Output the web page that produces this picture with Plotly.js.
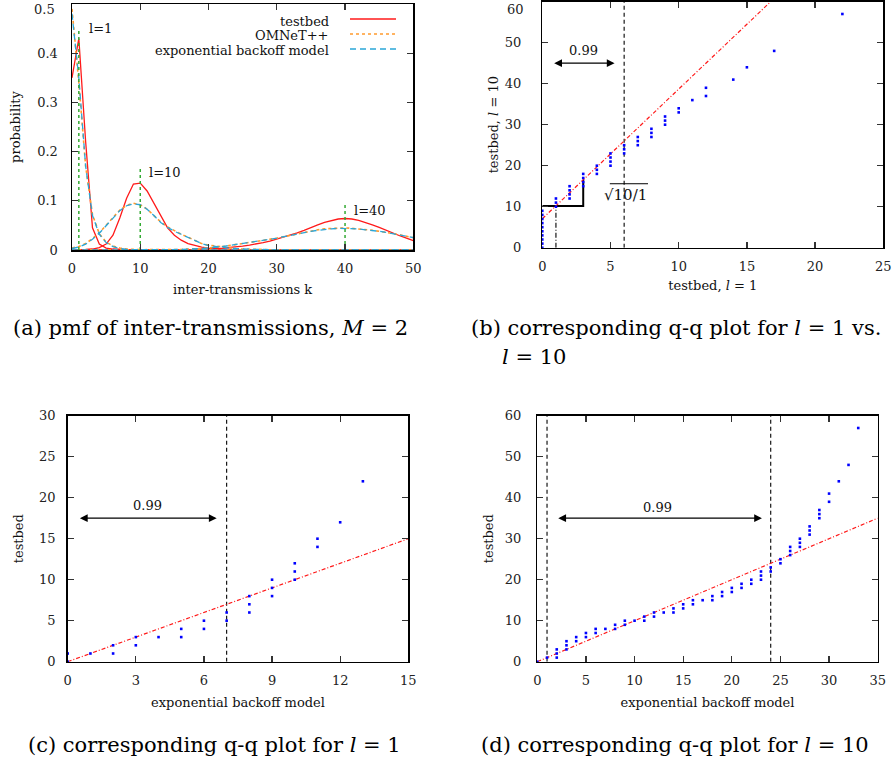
<!DOCTYPE html>
<html><head><meta charset="utf-8">
<script src="https://cdn.plot.ly/plotly-3.0.1.min.js"></script>
<style>html,body{margin:0;padding:0;background:#fff}#chart{width:892px;height:764px}</style>
</head><body><div id="chart"></div>
<script>
// ---------- (a) pmf data ----------
const k = [0,1,2,3,4,5,6,7,8,9,10,11,12,13,14,15,16,17,18,19,20,21,22,23,24,25,26,27,28,29,30,31,32,33,34,35,36,37,38,39,40,41,42,43,44,45,46,47,48,49,50];
const testbedL1  = [0.35,0.43,0.22,0.045,0.012,0.004,0.002,0.001,0,0,0,0,0,0,0,0,0,0,0,0,0,0,0,0,0,0,0,0,0,0,0,0,0,0,0,0,0,0,0,0,0,0,0,0,0,0,0,0,0,0,0];
const testbedL10 = [0,0,0.001,0.002,0.005,0.012,0.03,0.065,0.105,0.134,0.136,0.12,0.095,0.068,0.045,0.03,0.02,0.013,0.009,0.006,0.004,0.003,0.002,0.001,0.001,0,0,0,0,0,0,0,0,0,0,0,0,0,0,0,0,0,0,0,0,0,0,0,0,0,0];
const testbedL40 = [0,0,0,0,0,0,0,0,0,0,0,0,0,0,0,0,0,0,0.001,0.002,0.002,0.003,0.004,0.005,0.006,0.008,0.01,0.012,0.015,0.018,0.022,0.026,0.03,0.035,0.04,0.046,0.051,0.056,0.06,0.063,0.064,0.063,0.06,0.056,0.051,0.046,0.04,0.035,0.029,0.024,0.019];
const omnetL1  = [0.49,0.34,0.17,0.072,0.033,0.016,0.008,0.004,0.002,0.001,0,0,0,0,0,0,0,0,0,0,0,0,0,0,0,0,0,0,0,0,0,0,0,0,0,0,0,0,0,0,0,0,0,0,0,0,0,0,0,0,0];
const omnetL10 = [0.004,0.007,0.013,0.023,0.035,0.051,0.067,0.081,0.091,0.095,0.092,0.083,0.07,0.057,0.047,0.039,0.032,0.026,0.019,0.013,0.01,0.008,0.006,0.004,0.003,0.002,0.002,0.001,0.001,0,0,0,0,0,0,0,0,0,0,0,0,0,0,0,0,0,0,0,0,0,0];
const omnetL40 = [0,0,0,0,0,0,0,0,0,0,0,0,0,0,0,0.001,0.001,0.002,0.002,0.003,0.004,0.005,0.007,0.009,0.011,0.013,0.015,0.018,0.02,0.022,0.024,0.027,0.03,0.033,0.036,0.039,0.041,0.043,0.044,0.045,0.045,0.044,0.043,0.041,0.04,0.038,0.036,0.033,0.031,0.028,0.025];
const modelL1  = [0.48,0.35,0.17,0.07,0.032,0.015,0.007,0.003,0.001,0,0,0,0,0,0,0,0,0,0,0,0,0,0,0,0,0,0,0,0,0,0,0,0,0,0,0,0,0,0,0,0,0,0,0,0,0,0,0,0,0,0];
const modelL10 = [0.003,0.006,0.012,0.022,0.034,0.05,0.066,0.08,0.09,0.094,0.092,0.083,0.07,0.056,0.046,0.038,0.032,0.026,0.019,0.013,0.009,0.007,0.005,0.004,0.003,0.002,0.002,0.001,0.001,0,0,0,0,0,0,0,0,0,0,0,0,0,0,0,0,0,0,0,0,0,0];
const modelL40 = [0,0,0,0,0,0,0,0,0,0,0,0,0,0,0,0.001,0.001,0.002,0.002,0.003,0.004,0.005,0.007,0.009,0.011,0.013,0.015,0.018,0.02,0.022,0.024,0.027,0.03,0.033,0.035,0.038,0.04,0.042,0.043,0.044,0.044,0.044,0.043,0.041,0.04,0.038,0.036,0.033,0.031,0.028,0.025];
const markerL   = [1, 10, 40];
const markerTop = [0.45, 0.169, 0.095];
const markerLabels = ['l=1', 'l=10', 'l=40'];
const aTicks = [0, 0.1, 0.2, 0.3, 0.4, 0.5];
const aTickText = ['0', '0.1', '0.2', '0.3', '0.4', '0.5'];

// ---------- (b) q-q testbed l=1 vs l=10 ----------
const bX = [0,0,0,0,0,0,0,0,0,0, 1,1,1, 2,2,2,2, 3,3,3,3, 4,4,4, 5,5,5,5, 6,6,6, 7,7,7, 8,8,8, 9,9,9, 10,10, 11, 12,12, 14, 15, 17, 22];
const bY = [0,1,2,3,4,5,6,7,8,9, 10,11,12, 12,13,14,15, 15,16,17,18, 18,19,20, 20,21,22,23, 23,24,25, 25,26,27, 27,28,29, 30,31,32, 33,34, 36, 37,39, 41, 44, 48, 57];
const bFitX = [0, 16.74];
const bFitY = [7.06, 60];
const bSlopeX = [0, 3, 3];
const bSlopeY = [10.16, 10.16, 16.49];
const bRefX = [1, 1];
const bRefY = [0, 10.16];
const bQ99 = 6;
const bTicks = [0, 10, 20, 30, 40, 50, 60];
const bTickText = ['0', '10', '20', '30', '40', '50', '60'];

// ---------- (c) q-q model vs testbed, l=1 ----------
const cX = [0,0, 1, 2,2, 3,3, 4, 5,5, 6,6, 7,7, 8,8,8, 9,9,9, 10,10,10, 11,11, 12, 13];
const cY = [0,1, 1, 1,2, 2,3, 3, 3,4, 4,5, 5,6, 6,7,8, 8,9,10, 10,11,12, 14,15, 17, 22];
const cDiag = [0, 15];
const cQ99 = 7;

// ---------- (d) q-q model vs testbed, l=10 ----------
const dX = [0, 1, 2,2,2, 3,3,3, 4,4, 5,5, 6,6, 7, 8,8, 9,9, 10, 11,11, 12,12, 13, 14,14, 15,15, 16,16, 17, 18,18, 19,19, 20,20, 21,21, 22,22, 23,23,23, 24,24, 25,25, 26,26,26, 27,27,27, 28,28,28, 29,29,29, 30,30, 31, 32, 33];
const dY = [0, 1, 1,2,3, 3,4,5, 5,6, 6,7, 7,8, 8, 8,9, 9,10, 10, 10,11, 11,12, 12, 12,13, 13,14, 14,15, 15, 15,16, 16,17, 17,18, 18,19, 19,20, 20,21,22, 22,23, 24,25, 26,27,28, 28,29,30, 31,32,33, 35,36,37, 39,41, 44, 48, 57];
const dDiag = [0, 35];
const dQlo = 1, dQ99 = 24;

// ---------- styling ----------
const F = 'DejaVu Serif';
const W = 892, H = 764;
const px = v => v / W, py = v => 1 - v / H;
const RED = '#ff1a1a', ORANGE = '#ff9a2e', CYAN = '#2aa6d8', BLUE = '#0000ff', GREEN = '#33aa33';
const DASHDOT = '4px,2px,1px,2px';
const DASHED = '4px,3px';
const TICKFONT = {family: F, size: 13, color: '#222'};

function ax(extra) {
  return Object.assign({
    showline: true, mirror: 'allticks', linecolor: '#000', linewidth: 1.5,
    ticks: 'inside', ticklen: 6, tickwidth: 1.2, tickcolor: '#333',
    showgrid: false, zeroline: false, automargin: false, fixedrange: true,
    ticklabeloverflow: 'allow', tickfont: TICKFONT
  }, extra);
}
function ttl(t, s) { return {text: t, font: {family: F, size: 13, color: '#111'}, standoff: s}; }

const traces = [];
function line(x, y, color, width, dash, xaxis, yaxis) {
  traces.push({type: 'scatter', mode: 'lines', x: x, y: y, xaxis: xaxis, yaxis: yaxis,
    line: {color: color, width: width, dash: dash}, showlegend: false, hoverinfo: 'skip'});
}
function pts(x, y, xaxis, yaxis) {
  traces.push({type:'scatter', mode:'markers', x:x, y:y, xaxis:xaxis, yaxis:yaxis, cliponaxis:false,
    marker:{symbol:'square', size:2.6, color:BLUE, line:{width:0}}, showlegend:false, hoverinfo:'skip'});
}
// (a)
[testbedL1, testbedL10, testbedL40].forEach(s => line(k, s, RED, 1.3, 'solid', 'x', 'y'));
[omnetL1, omnetL10, omnetL40].forEach(s => line(k, s, ORANGE, 1.6, 'dot', 'x', 'y'));
[modelL1, modelL10, modelL40].forEach(s => line(k, s, CYAN, 1.3, '6px,4px', 'x', 'y'));
const gx = [], gy = [];
markerL.forEach((l, i) => { gx.push(l, l, null); gy.push(0, markerTop[i], null); });
line(gx, gy, GREEN, 1.5, 'dot', 'x', 'y');

// (b)
line([bQ99, bQ99], [0, 60], '#000', 1.1, DASHED, 'x2', 'y2');
line(bRefX, bRefY, '#000', 1.1, '5px,2px,1px,2px', 'x2', 'y2');
line(bSlopeX, bSlopeY, '#000', 2, 'solid', 'x2', 'y2');
line(bFitX, bFitY, RED, 1.2, DASHDOT, 'x2', 'y2');
pts(bX, bY, 'x2', 'y2');

// (c)
line([cQ99, cQ99], [0, 30], '#000', 1.1, DASHED, 'x3', 'y3');
line(cDiag, cDiag, RED, 1.2, DASHDOT, 'x3', 'y3');
pts(cX, cY, 'x3', 'y3');

// (d)
line([dQlo, dQlo], [0, 60], '#000', 1.1, DASHED, 'x4', 'y4');
line([dQ99, dQ99], [0, 60], '#000', 1.1, DASHED, 'x4', 'y4');
line(dDiag, dDiag, RED, 1.2, DASHDOT, 'x4', 'y4');
pts(dX, dY, 'x4', 'y4');

// ---------- annotations ----------
const ann = [];
const txt = (xref, yref, x, y, text, size, xanchor) => ann.push({xref, yref, x, y, text, showarrow:false,
  xanchor: xanchor || 'center', yanchor:'middle', font:{family:F, size:size, color:'#111'}});
// top tick labels sit slightly below their tick (as in the reference) so they stay inside the page
ann.push({xref:'paper', yref:'y', x:px(57), y:aTicks[5], yshift:-6, text:aTickText[5], showarrow:false,
  xanchor:'right', yanchor:'middle', font:TICKFONT});
ann.push({xref:'paper', yref:'y2', x:px(526), y:bTicks[6], yshift:-8, text:bTickText[6], showarrow:false,
  xanchor:'right', yanchor:'middle', font:TICKFONT});
// (a) impulse labels
txt('x', 'y', 2.2, 0.45, markerLabels[0], 13, 'left');
txt('x', 'y', 11, 0.158, markerLabels[1], 13, 'left');
txt('x', 'y', 41, 0.081, markerLabels[2], 13, 'left');
// manual gnuplot-style legend (text right, sample on the right)
const legNames = ['testbed', 'OMNeT++', 'exponential backoff model'];
const legColors = [RED, ORANGE, CYAN];
const legDash = ['solid', 'dot', '6px,4px'];
const legY = [21, 36, 51];
const shapes = [];
legNames.forEach((n, i) => {
  txt('paper', 'paper', px(331), py(legY[i]), n, 13, 'right');
  shapes.push({type:'line', xref:'paper', yref:'paper', x0:px(350), x1:px(396), y0:py(legY[i]-2), y1:py(legY[i]-2),
    line:{color:legColors[i], width:1.5, dash:legDash[i]}});
});
// overline of the square root sign in (b)
shapes.push({type:'line', xref:'x2', yref:'y2', x0:4.95, x1:7.75, y0:15.6, y1:15.6, line:{color:'#000', width:1}});
// arrows
function arrow(xr, yr, x0, x1, y) {
  ann.push({xref:xr, yref:yr, axref:xr, ayref:yr, x:x1, y:y, ax:x0, ay:y, text:'', showarrow:true,
    arrowhead:2, startarrowhead:2, arrowside:'end+start', arrowsize:1.3, startarrowsize:1.3,
    arrowwidth:1.2, arrowcolor:'#000', standoff:0, startstandoff:0});
}
arrow('x2', 'y2', 0.76, 5.3, 45);  txt('x2', 'y2', 3.0, 48.2, '0.99', 13);
arrow('x3', 'y3', 0.47, 6.56, 17.5); txt('x3', 'y3', 3.5, 19.0, '0.99', 13);
arrow('x4', 'y4', 2.0, 23.1, 35);  txt('x4', 'y4', 12.4, 37.7, '0.99', 13);
txt('x2', 'y2', 6.1, 12.9, '\u221A10/1', 15);
// captions
const cap = (x, y, text, xanchor) => ann.push({xref:'paper', yref:'paper', x:px(x), y:py(y), text, showarrow:false,
  xanchor: xanchor || 'center', yanchor:'middle', font:{family:F, size:21, color:'#000'}});
cap(210, 328, '(a) pmf of inter-transmissions, <i>M</i> = 2');
cap(469, 328, '(b) corresponding q-q plot for <i>l</i> = 1 vs.', 'left');
cap(500, 357, '<i>l</i> = 10', 'left');
cap(214, 745, '(c) corresponding q-q plot for <i>l</i> = 1');
cap(675, 745, '(d) corresponding q-q plot for <i>l</i> = 10');

const layout = {
  width: W, height: H, margin: {l:0, r:0, t:0, b:0}, paper_bgcolor:'#fff', plot_bgcolor:'#fff',
  showlegend: false,
  xaxis:  ax({domain:[px(72), px(413.3)], range:[0,50], dtick:10, anchor:'y', title: ttl('inter-transmissions k', 10), ticklabelstandoff: 6}),
  yaxis:  ax({domain:[py(250), py(4)], range:[0,0.5], tickmode:'array', tickvals:aTicks, ticktext:aTickText.slice(0,5).concat(['']), anchor:'x', title: ttl('probability', 13), ticklabelstandoff: 10}),
  xaxis2: ax({domain:[px(542.3), px(883.3)], range:[0,25], dtick:5, anchor:'y2', title: ttl('testbed, <i>l</i> = 1', 8), ticklabelstandoff: 6}),
  yaxis2: ax({domain:[py(247.7), py(1.7)], range:[0,60], tickmode:'array', tickvals:bTicks, ticktext:bTickText.slice(0,6).concat(['']), anchor:'x2', title: ttl('testbed, <i>l</i> = 10', 3), ticklabelstandoff: 17}),
  xaxis3: ax({domain:[px(67.7), px(408.3)], range:[0,15], dtick:3, anchor:'y3', title: ttl('exponential backoff model', 11), ticklabelstandoff: 6}),
  yaxis3: ax({domain:[py(661.7), py(415.7)], range:[0,30], dtick:5, anchor:'x3', title: ttl('testbed', 12), ticklabelstandoff: 8}),
  xaxis4: ax({domain:[px(537.3), px(877.7)], range:[0,35], dtick:5, anchor:'y4', title: ttl('exponential backoff model', 11), ticklabelstandoff: 6}),
  yaxis4: ax({domain:[py(661.7), py(415.7)], range:[0,60], dtick:10, anchor:'x4', title: ttl('testbed', 8), ticklabelstandoff: 12}),
  annotations: ann, shapes: shapes
};
Plotly.newPlot('chart', traces, layout, {staticPlot:true, displayModeBar:false});
</script></body></html>
